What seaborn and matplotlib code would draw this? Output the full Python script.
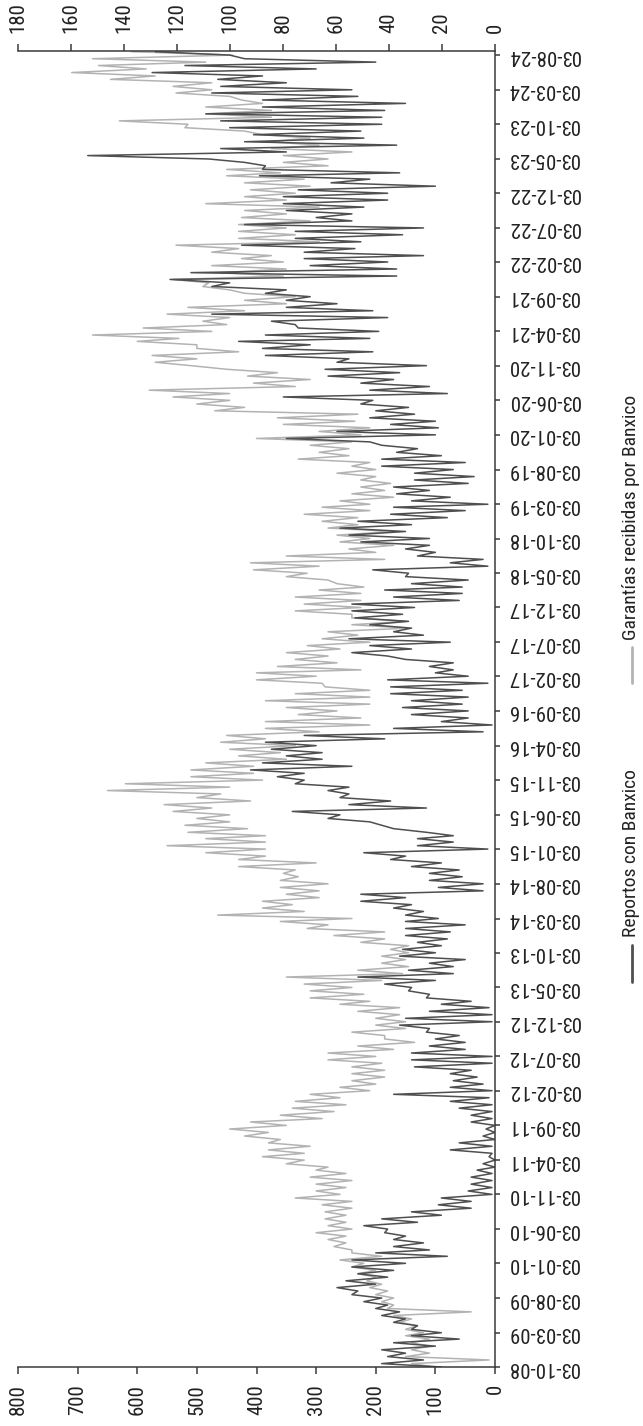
import numpy as np
import pandas as pd
import matplotlib
matplotlib.use("Agg")
import matplotlib.pyplot as plt
import seaborn as sns
from matplotlib.lines import Line2D
from matplotlib import font_manager as fm

sns.set_style("white")

# ---------------- data ----------------
# monthly low / high, Oct-2008 ... Aug-2024 (left-axis units)
reportos_min = [90, 120, 150,
    100, 60, 90, 130, 150, 160, 180, 190, 230, 200, 180, 170,
    150, 80, 110, 120, 150, 180, 130, 90, 40, 40, 5, 5,
    5, 5, 0, 0, 5, 5, 0, 0, 0, 5, 5, 5,
    10, 5, 20, 30, 40, 5, 5, 50, 50, 60, 110, 5,
    5, 10, 40, 110, 140, 100, 70, 70, 50, 100, 90, 80,
    75, 50, 95, 120, 140, 150, 20, 20, 55, 60, 90, 150,
    12, 70, 70, 170, 210, 260, 115, 175, 245, 245, 320, 320,
    240, 290, 290, 300, 185, 20, 5, 45, 45, 55, 45, 55,
    12, 45, 70, 70, 180, 140, 75, 120, 140, 145, 155, 135,
    60, 55, 55, 45, 145, 12, 20, 100, 110, 110, 150, 140,
    80, 50, 12, 75, 110, 45, 35, 70, 50, 90, 130, 210,
    100, 95, 100, 135, 145, 205, 80, 110, 170, 160, 115, 245,
    205, 310, 210, 195, 335, 180, 205, 265, 310, 350, 445, 165,
    165, 180, 120, 235, 225, 155, 120, 240, 240, 220, 180, 180,
    100, 210, 160, 385, 480, 350, 165, 220, 225, 190, 190, 185,
    150, 230, 240, 350, 390, 300, 200, 445]
reportos_max = [190, 180, 190,
    170, 140, 140, 170, 190, 200, 220, 240, 265, 250, 230, 240,
    240, 200, 170, 170, 185, 220, 190, 140, 95, 90, 45, 40,
    40, 30, 20, 10, 75, 60, 20, 15, 40, 40, 60, 75,
    170, 75, 70, 75, 135, 140, 140, 110, 100, 115, 160, 150,
    110, 90, 115, 145, 185, 230, 145, 110, 160, 155, 130, 150,
    150, 150, 150, 170, 225, 225, 95, 110, 110, 140, 175, 220,
    130, 130, 115, 190, 280, 340, 245, 260, 280, 335, 365, 410,
    390, 350, 375, 385, 320, 170, 90, 140, 155, 140, 175, 175,
    180, 100, 110, 150, 240, 210, 245, 170, 210, 235, 240, 240,
    170, 185, 140, 150, 205, 75, 130, 150, 225, 245, 260, 230,
    175, 170, 140, 165, 170, 135, 135, 190, 190, 165, 190, 350,
    265, 175, 210, 200, 225, 355, 210, 225, 280, 285, 265, 385,
    390, 430, 385, 330, 375, 475, 350, 350, 385, 475, 545, 510,
    310, 320, 320, 425, 335, 335, 420, 300, 350, 355, 355, 330,
    275, 395, 390, 420, 683, 460, 420, 405, 445, 460, 485, 390,
    390, 475, 460, 465, 575, 520, 420, 570]
garantias_min = [100, 10, 110,
    110, 110, 120, 130, 140, 40, 170, 170, 180, 190, 200, 200,
    220, 190, 240, 250, 250, 240, 250, 250, 240, 240, 260, 250,
    240, 250, 280, 320, 320, 310, 360, 380, 350, 290, 270, 250,
    260, 210, 200, 185, 185, 190, 200, 170, 135, 185, 150, 150,
    160, 160, 210, 220, 240, 190, 155, 145, 150, 145, 145, 185,
    185, 280, 240, 320, 340, 295, 295, 280, 330, 335, 300, 385,
    385, 385, 385, 415, 445, 445, 475, 410, 460, 445, 390, 405,
    405, 350, 360, 335, 385, 295, 210, 225, 265, 210, 210, 210,
    290, 300, 225, 265, 280, 260, 210, 230, 145, 150, 240, 225,
    225, 225, 220, 280, 315, 295, 185, 200, 170, 210, 170, 230,
    230, 210, 210, 170, 185, 175, 200, 200, 210, 245, 245, 240,
    225, 210, 235, 230, 420, 445, 445, 335, 310, 365, 510, 500,
    430, 500, 530, 475, 450, 445, 420, 350, 335, 445, 480, 355,
    350, 355, 375, 430, 295, 335, 350, 310, 350, 295, 350, 335,
    310, 320, 360, 280, 280, 240, 295, 310, 420, 515, 375, 375,
    390, 445, 475, 475, 570, 585, 485, 440]
garantias_max = [140, 150, 140,
    140, 150, 150, 160, 170, 180, 190, 200, 210, 215, 230, 240,
    260, 240, 270, 280, 300, 280, 285, 285, 290, 335, 300, 300,
    310, 300, 350, 390, 380, 380, 420, 445, 410, 360, 340, 335,
    310, 260, 240, 240, 240, 280, 280, 230, 185, 240, 200, 200,
    230, 260, 310, 310, 320, 350, 230, 190, 190, 175, 225, 270,
    315, 360, 465, 390, 390, 350, 360, 360, 355, 430, 430, 485,
    550, 485, 515, 520, 500, 540, 555, 500, 650, 620, 510, 510,
    485, 430, 445, 460, 450, 385, 385, 330, 350, 385, 335, 285,
    400, 400, 365, 335, 350, 315, 290, 280, 240, 240, 335, 320,
    335, 295, 265, 350, 405, 410, 350, 245, 260, 265, 280, 290,
    320, 290, 260, 240, 225, 225, 265, 240, 330, 295, 310, 400,
    295, 355, 365, 470, 500, 540, 580, 405, 415, 450, 570, 575,
    500, 600, 675, 590, 490, 550, 515, 420, 420, 490, 540, 460,
    475, 425, 475, 535, 430, 430, 430, 425, 420, 485, 420, 410,
    420, 450, 450, 355, 355, 375, 380, 390, 520, 630, 485, 485,
    425, 535, 540, 645, 710, 665, 675, 610]

tick_labels = ["03-10-08", "03-03-09", "03-08-09", "03-01-10", "03-06-10",
    "03-11-10", "03-04-11", "03-09-11", "03-02-12", "03-07-12", "03-12-12",
    "03-05-13", "03-10-13", "03-03-14", "03-08-14", "03-01-15", "03-06-15",
    "03-11-15", "03-04-16", "03-09-16", "03-02-17", "03-07-17", "03-12-17",
    "03-05-18", "03-10-18", "03-03-19", "03-08-19", "03-01-20", "03-06-20",
    "03-11-20", "03-04-21", "03-09-21", "03-02-22", "03-07-22", "03-12-22",
    "03-05-23", "03-10-23", "03-03-24", "03-08-24"]
left_ticks = [0, 100, 200, 300, 400, 500, 600, 700, 800]
right_ticks = [0, 20, 40, 60, 80, 100, 120, 140, 160, 180]
series_names = ["Reportos con Banxico", "Garantías recibidas por Banxico"]

# ---------------- font choice ----------------
avail = {f.name for f in fm.fontManager.ttflist}
cond = [f for f in fm.fontManager.ttflist
        if f.name == "DejaVu Sans" and "ondensed" in str(f.stretch)]
if "Roboto Condensed" in avail:
    fam, fs, lfs, stretch = "Roboto Condensed", 15, 14, "normal"
elif "Liberation Sans Narrow" in avail:
    fam, fs, lfs, stretch = "Liberation Sans Narrow", 15, 14, "normal"
elif cond:
    fam, fs, lfs, stretch = "DejaVu Sans", 12, 12, "condensed"
elif "Roboto" in avail:
    fam, fs, lfs, stretch = "Roboto", 12.5, 12, "normal"
else:
    fam, fs, lfs, stretch = "DejaVu Sans", 10.5, 10.5, "normal"
plt.rcParams["font.family"] = [fam, "DejaVu Sans"]
plt.rcParams["font.stretch"] = stretch

# ---------------- build long table ----------------
months = pd.date_range("2008-10-01", periods=len(reportos_min), freq="MS")
rows = []
for i, m in enumerate(months):
    d1 = m + pd.Timedelta(days=2)
    d2 = m + pd.Timedelta(days=17)
    for name, lo, hi in [(series_names[0], reportos_min[i], reportos_max[i]),
                         (series_names[1], garantias_min[i], garantias_max[i])]:
        rows.append((name, d1, lo))
        rows.append((name, d2, hi))
df = pd.DataFrame(rows, columns=["serie", "fecha", "valor"])

# ---------------- figure ----------------
W, H = 643, 1426
fig = plt.figure(figsize=(W / 100, H / 100), dpi=100)
x0, x1, y0, y1 = 18, 495, 51, 1367
ax = fig.add_axes([x0 / W, 1 - y1 / H, (x1 - x0) / W, (y1 - y0) / H])

dark = "#4f4f4f"
light = "#b3b3b3"
sns.lineplot(data=df[df.serie == series_names[1]], x="valor", y="fecha",
             orient="y", estimator=None, sort=True, color=light,
             linewidth=1.1, ax=ax, legend=False)
sns.lineplot(data=df[df.serie == series_names[0]], x="valor", y="fecha",
             orient="y", estimator=None, sort=True, color=dark,
             linewidth=1.1, ax=ax, legend=False)

ax.set_xlim(800, 0)
ax.set_ylim(pd.Timestamp("2008-10-03"), pd.Timestamp("2024-08-21"))
ax.set_xlabel("")
ax.set_ylabel("")

tick_dates = pd.to_datetime(tick_labels, format="%d-%m-%y")
ax.yaxis.tick_right()
ax.set_yticks(tick_dates)
ax.set_yticklabels(tick_labels, rotation=180, fontsize=fs,
                   va="center", ha="left", color="#222222")
ax.set_xticks(left_ticks)
ax.set_xticklabels([str(v) for v in left_ticks], rotation=90, fontsize=fs,
                   color="#222222")

spine_c = "#3a3a3a"
for s in ["left", "top"]:
    ax.spines[s].set_visible(False)
for s in ["right", "bottom"]:
    ax.spines[s].set_color(spine_c)
    ax.spines[s].set_linewidth(1.1)
ax.tick_params(axis="x", direction="out", length=5.2, width=1.1, color=spine_c,
               pad=7, bottom=True)
ax.tick_params(axis="y", direction="out", length=3.8, width=1.1, color=spine_c,
               pad=5, right=True, left=False)

ax2 = ax.twiny()
ax2.set_xlim(180, 0)
ax2.set_xticks(right_ticks)
ax2.set_xticklabels([str(v) for v in right_ticks], rotation=90, fontsize=fs,
                    color="#222222")
for s in ["left", "right", "bottom"]:
    ax2.spines[s].set_visible(False)
ax2.spines["top"].set_color(spine_c)
ax2.spines["top"].set_linewidth(1.1)
ax2.tick_params(axis="x", direction="out", length=5.2, width=1.1, color=spine_c,
                pad=8, top=True)

# legend (rotated, drawn manually)
lx = 632 / W
for name, col, text_bottom, l_top, l_bot in [
        (series_names[0], dark, 937, 945, 982),
        (series_names[1], light, 640, 647, 683)]:
    fig.add_artist(Line2D([lx, lx], [1 - l_top / H, 1 - l_bot / H],
                          color=col, linewidth=2, transform=fig.transFigure))
    fig.text(lx - 1 / W, 1 - text_bottom / H, name, rotation=90, ha="center",
             va="bottom", fontsize=lfs, color="#222222")

fig.savefig("out.png", dpi=100)
